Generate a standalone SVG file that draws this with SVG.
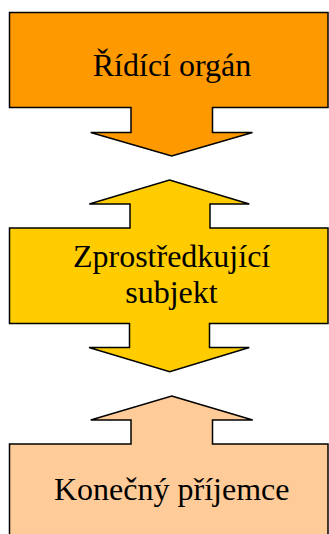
<svg xmlns="http://www.w3.org/2000/svg" width="329" height="534" viewBox="0 0 329 534">
<style>
.s{stroke:#000;stroke-width:1.5;stroke-linejoin:miter}
.t{font-family:"Liberation Serif","Times New Roman",serif;font-size:32px;fill:#000;text-anchor:middle}
</style>
<rect width="329" height="534" fill="#fff"/>
<g id="ridici-organ">
<path class="s" fill="#FF9900" d="M9.5,12.5 H328 V107.5 H212.5 V132.5 H252.5 L171.7,156 L90.7,132.5 H131 V107.5 H9.5 Z"/>
<text class="t" x="172" y="75.5">Řídící orgán</text>
</g>
<g id="zprostredkujici-subjekt">
<path class="s" fill="#FFCC00" d="M169.5,180 L249.3,204 H210 V228 H328 V323.5 H209.5 V347.5 H249.3 L169.7,371.7 L89,347.5 H129.5 V323.5 H9.5 V228 H130 V204 H89.3 Z"/>
<text class="t" x="171.6" y="266.5">Zprostředkující</text>
<text class="t" x="171.4" y="303">subjekt</text>
</g>
<g id="konecny-prijemce">
<path class="s" fill="#FFCC99" d="M171.7,396 L252.7,420 H212.5 V444 H328 V540 H9.5 V444 H131 V420 H90.7 Z"/>
<text class="t" x="171.7" y="500">Konečný příjemce</text>
</g>
<g id="connectors"></g>
</svg>
